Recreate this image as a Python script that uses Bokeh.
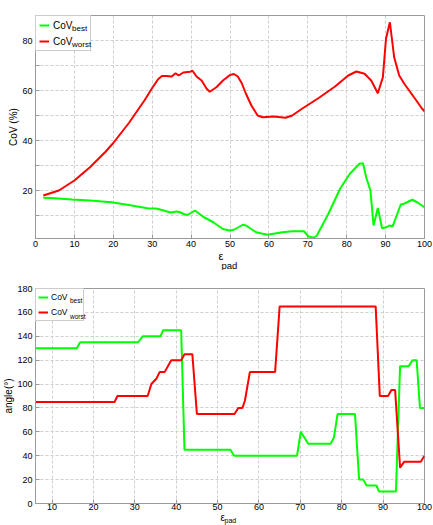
from bokeh.plotting import figure
from bokeh.layouts import column
from bokeh.models import Range1d, FixedTicker, Legend, LegendItem, Title
from bokeh.embed import file_html
from bokeh.resources import INLINE

FONT = "Liberation Sans"
GREEN = "#00ff00"
RED = "#ff0000"
AXC = "#9a9a9a"

# ---------------- data: top panel (CoV %) ----------------
top_worst_x = [2, 6, 10, 14, 18, 20, 22, 24, 26, 28, 30, 31.5, 32.5, 33.5, 35, 36, 36.8, 38, 39.8, 40.3,
               41.4, 42.7, 44, 44.8, 46.5, 48.2, 50, 51, 52, 53, 54.1, 55.5, 57.1, 58.4, 61.3, 64.3, 66,
               68.5, 72.8, 77, 80.4, 82.5, 84.6, 86.3, 88, 89.3, 90.1, 91.1, 92.2, 93.5, 94.8, 97.3, 99.4, 100]
top_worst_y = [18, 20, 24, 29.3, 35.5, 39, 43, 47, 51.5, 56, 61, 64.5, 65.8, 65.8, 65.6, 66.9, 66, 67.2, 67.5, 68,
               65.6, 64, 60.7, 59.5, 61.3, 64, 66.2, 66.6, 65.6, 63, 58.7, 54, 50, 49.3, 49.6, 49.1, 50,
               52.7, 57, 61.6, 66, 67.6, 66.7, 64, 58.9, 65.3, 80.7, 87.3, 73.3, 66, 62.7, 57.3, 52.7, 51.7]

top_best_x = [2, 5, 9.3, 14, 19.5, 24, 28.8, 31, 32.5, 34.7, 36.4, 37.2, 38.5, 39.3, 41, 43.1, 45.7, 48.2,
              49.9, 51, 53.3, 54.1, 56.7, 59.6, 63.5, 66, 69, 70.2, 71.5, 72.3, 75.3, 78.3, 80.8, 83.3, 84.2,
              85, 86.1, 86.9, 88, 89.1, 90.2, 91, 91.8, 93.9, 94.7, 96.9, 98.1, 100]
top_best_y = [17.1, 16.9, 16.4, 16, 15.3, 14.2, 12.9, 12.8, 12.2, 11.2, 11.6, 11.3, 10.3, 10.4, 12, 9.5, 7.3, 4.6,
              4, 4.3, 6.3, 6, 3.3, 2.3, 3.3, 3.7, 3.7, 1.6, 1.1, 1.9, 10.7, 20.7, 26.7, 30.7, 30.9,
              25.3, 20, 6, 13, 4.9, 5.3, 6, 5.6, 14.4, 14.7, 16.3, 15.3, 13.3]

top_x_ticks = [0, 10, 20, 30, 40, 50, 60, 70, 80, 90, 100]
top_y_ticks = [10, 20, 30, 40, 50, 60, 70, 80]
top_y_labels = {10: "", 20: "20", 30: "", 40: "40", 50: "", 60: "60", 70: "", 80: "80"}

# ---------------- data: bottom panel (angle) ----------------
bot_best_x = [6, 16, 16.8, 30.8, 31.9, 36.2, 36.8, 41.2, 42, 53.1, 54, 69.2, 70.1, 71.9, 77.3, 78.1, 79,
              83.2, 84.2, 85.2, 86, 88.4, 89, 93.1, 94.1, 96.2, 97.1, 98.1, 98.9, 100]
bot_best_y = [130, 130, 135, 135, 140, 140, 145, 145, 45, 45, 40, 40, 60, 50, 50, 55, 75,
              75, 20, 20, 15, 15, 10, 10, 115, 115, 120, 120, 80, 80]

bot_worst_x = [6, 25.1, 25.8, 33.1, 34, 35.2, 36, 37.2, 38.8, 41.2, 42, 43.9, 45, 54.1, 55, 56, 56.6,
               57.8, 63.9, 65, 88.2, 89.2, 91.2, 92, 92.9, 94.1, 95.1, 99.1, 100]
bot_worst_y = [85, 85, 90, 90, 100, 104.4, 110, 110, 120, 120, 125, 125, 75, 75, 80, 80, 86,
               110, 110, 165, 165, 90, 90, 95, 95, 30, 35, 35, 40]

bot_x_ticks = [10, 20, 30, 40, 50, 60, 70, 80, 90, 100]
bot_y_ticks = [0, 20, 40, 60, 80, 100, 120, 140, 160, 180]

series_name = "CoV"
series_subs = ["best", "worst"]
xlabel_main = "ε"
xlabel_sub = "pad"


def style(p, ylabel, xstandoff):
    p.outline_line_color = AXC
    p.outline_line_width = 1
    p.background_fill_color = "white"
    p.border_fill_color = "white"
    for ax in (p.xaxis[0], p.yaxis[0]):
        ax.axis_line_color = AXC
        ax.major_tick_line_color = AXC
        ax.major_tick_in = 4
        ax.major_tick_out = 0
        ax.minor_tick_line_color = None
        ax.major_label_text_font = FONT
        ax.major_label_text_font_size = "9px"
        ax.major_label_text_color = "black"
        ax.major_label_standoff = 3
    p.xaxis[0].major_label_standoff = xstandoff
    ya = p.yaxis[0]
    ya.axis_label = ylabel
    ya.axis_label_text_font = FONT
    ya.axis_label_text_font_size = "10px"
    ya.axis_label_text_font_style = "normal"
    ya.axis_label_text_color = "black"
    ya.axis_label_standoff = 0
    for g in (p.xgrid[0], p.ygrid[0]):
        g.grid_line_color = "#cfcfcf"
        g.grid_line_dash = "3 2"
        g.grid_line_width = 1


def xlabel(p, off_main, off_sub, fs_main, fs_sub, main_standoff, sub_standoff):
    p.add_layout(Title(text=xlabel_main, align="left", offset=off_main, standoff=main_standoff,
                       text_font=FONT, text_font_size=fs_main, text_font_style="normal",
                       text_color="black"), "below")
    p.add_layout(Title(text=xlabel_sub, align="left", offset=off_sub, standoff=sub_standoff,
                       text_font=FONT, text_font_size=fs_sub, text_font_style="normal",
                       text_color="black"), "below")


def legend(p, renderers, pad, glyph_w, label_w, label_h, spacing, standoff, fs,
           sub_loc, sub_fs, sub_spacing):
    items = [LegendItem(label=series_name, renderers=[r]) for r in renderers]
    lg = Legend(items=items, location="top_left", margin=0, padding=pad, spacing=spacing,
                glyph_width=glyph_w, glyph_height=label_h, label_width=label_w, label_height=label_h,
                label_standoff=standoff, label_text_font=FONT, label_text_font_size=fs,
                label_text_color="black", border_line_color=AXC, border_line_width=1,
                background_fill_color="white", background_fill_alpha=1.0)
    p.add_layout(lg)
    # subscripts, drawn as a second, frameless legend without glyphs
    sub_items = [LegendItem(label=s, renderers=[r]) for s, r in zip(series_subs, renderers)]
    sl = Legend(items=sub_items, location=sub_loc, margin=0, padding=0, spacing=sub_spacing,
                glyph_width=0, glyph_height=label_h, label_width=10, label_height=label_h,
                label_standoff=0, label_text_font=FONT, label_text_font_size=sub_fs,
                label_text_color="black", border_line_color=None,
                background_fill_alpha=0.0)
    p.add_layout(sl)


# ---------------- top figure ----------------
p1 = figure(width=433, height=270, output_backend="svg", toolbar_location=None,
            x_range=Range1d(0, 100), y_range=Range1d(0.8, 90),
            min_border_left=30, min_border_right=9, min_border_top=15, min_border_bottom=32)
g1 = p1.line(top_best_x, top_best_y, line_color=GREEN, line_width=2)
r1 = p1.line(top_worst_x, top_worst_y, line_color=RED, line_width=2)
style(p1, "CoV (%)", 2)
p1.xaxis[0].ticker = FixedTicker(ticks=top_x_ticks)
p1.yaxis[0].ticker = FixedTicker(ticks=top_y_ticks)
p1.yaxis[0].major_label_overrides = top_y_labels
legend(p1, [g1, r1], pad=3, glyph_w=10, label_w=34, label_h=12, spacing=4, standoff=4, fs="10px",
       sub_loc=(37, 187.5), sub_fs="8px", sub_spacing=4)
xlabel(p1, 183, 186, "11px", "9.5px", -3, -5)

# ---------------- bottom figure ----------------
p2 = figure(width=433, height=255, output_backend="svg", toolbar_location=None,
            x_range=Range1d(6, 100), y_range=Range1d(0, 180),
            min_border_left=34, min_border_right=3, min_border_top=18, min_border_bottom=22)
g2 = p2.line(bot_best_x, bot_best_y, line_color=GREEN, line_width=2)
r2 = p2.line(bot_worst_x, bot_worst_y, line_color=RED, line_width=2)
style(p2, "angle(°)", 0)
p2.xaxis[0].ticker = FixedTicker(ticks=bot_x_ticks)
p2.yaxis[0].ticker = FixedTicker(ticks=bot_y_ticks)
legend(p2, [g2, r2], pad=2, glyph_w=10, label_w=30, label_h=12, spacing=3, standoff=3, fs="8.5px",
       sub_loc=(35, 181), sub_fs="6.5px", sub_spacing=4)
xlabel(p2, 185, 189, "10px", "7px", -6, -9)

layout = column(p1, p2)
open("out.html", "w").write(file_html(layout, INLINE))
